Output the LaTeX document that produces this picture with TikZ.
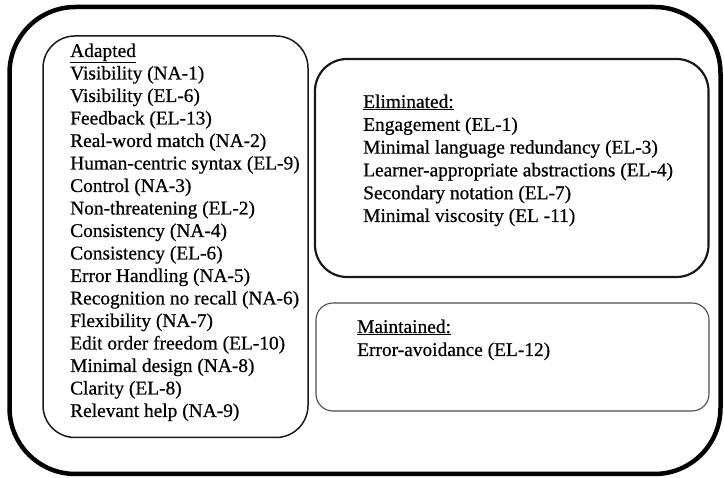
\documentclass[tikz,border=0pt]{standalone}
\usepackage{fontspec}
\setmainfont{Liberation Serif}[FakeBold=0.6]
\begin{document}
\begin{tikzpicture}[x=1pt,y=-1pt,
  outerbox/.style={draw=black,line width=4.5pt,rounded corners=66pt},
  groupbox/.style={draw=black!90,line width=1.5pt,rounded corners=32pt},
  elimbox/.style={draw=black!90,line width=2.2pt,rounded corners=32pt},
  keptbox/.style={draw=black!70,line width=1.1pt,rounded corners=17pt},
  item/.style={anchor=base west,inner sep=0pt,text=black,
    font=\fontsize{19.4}{22.5}\selectfont}]
\useasboundingbox (0,0) rectangle (724,478);

% frame around everything
\draw[outerbox] (9.5,7) rectangle (720.5,474);

% three groups
\draw[groupbox] (43,36) rectangle (308,437.5);
\draw[elimbox] (315,59) rectangle (708.5,277);
\draw[keptbox] (316,303) rectangle (709,411);

% adapted heuristics
\node[item] (ahead) at (70,57) {\underline{Adapted}};
\foreach [count=\i] \t in {Visibility (NA-1),Visibility (EL-6),Feedback (EL-13),
  Real-word match (NA-2),Human-centric syntax (EL-9),Control (NA-3),
  Non-threatening (EL-2),Consistency (NA-4),Consistency (EL-6),
  Error Handling (NA-5),Recognition no recall (NA-6),Flexibility (NA-7),
  Edit order freedom (EL-10),Minimal design (NA-8),Clarity (EL-8),
  Relevant help (NA-9)}
  \node[item] (a\i) at (70,57+22.5*\i) {\t};

% eliminated heuristics
\node[item] (ehead) at (363,108) {\underline{Eliminated:}};
\foreach [count=\i] \t in {Engagement (EL-1),Minimal language redundancy (EL-3),
  Learner-appropriate abstractions (EL-4),Secondary notation (EL-7),
  Minimal viscosity (EL -11)}
  \node[item] (e\i) at (363,108+22.8*\i) {\t};

% maintained heuristics
\node[item] (mhead) at (357,333) {\underline{Maintained:}};
\node[item] (m1) at (357,356) {Error-avoidance (EL-12)};
\end{tikzpicture}
\end{document}
